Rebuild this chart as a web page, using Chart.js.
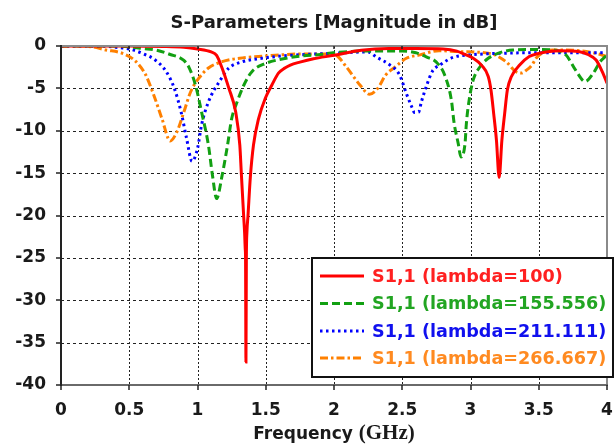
<!DOCTYPE html>
<html><head><meta charset="utf-8">
<script src="https://cdn.jsdelivr.net/npm/chart.js@4.4.0/dist/chart.umd.min.js"></script>
<style>html,body{margin:0;padding:0;background:#fff}#wrap{width:614px;height:446px;position:relative}</style>
</head><body><div id="wrap"><canvas id="c" width="614" height="446"></canvas></div>
<script>
const chartTitle = 'S-Parameters [Magnitude in dB]';
const xTitleMain = 'Frequency ';
const xTitleUnit = '(GHz)';
const seriesLabels = ['S1,1 (lambda=100)', 'S1,1 (lambda=155.556)', 'S1,1 (lambda=211.111)', 'S1,1 (lambda=266.667)'];
const xTicks = [0, 0.5, 1, 1.5, 2, 2.5, 3, 3.5, 4];
const yTicks = [0, -5, -10, -15, -20, -25, -30, -35, -40];

// lambda = 100
const freq100 = [0, 0.5, 0.75, 0.9, 1.0, 1.1, 1.14, 1.18, 1.23, 1.28, 1.31, 1.321, 1.338, 1.345, 1.35, 1.352, 1.355, 1.358, 1.362, 1.37, 1.387, 1.41, 1.447, 1.496, 1.545, 1.593, 1.64, 1.68, 1.75, 1.85, 2.0, 2.2, 2.4, 2.6, 2.8, 2.9, 2.96, 3.02, 3.08, 3.13, 3.15, 3.17, 3.19, 3.21, 3.23, 3.25, 3.27, 3.30, 3.36, 3.43, 3.5, 3.65, 3.8, 3.86, 3.92, 3.97, 4.0];
const s11_100 = [0, 0, -0.05, -0.15, -0.35, -0.7, -1.1, -2.6, -5.0, -7.8, -11.7, -15, -20, -22, -24, -25, -37.3, -25, -22, -20, -15.5, -11.7, -8.6, -6.2, -4.6, -3.2, -2.6, -2.25, -1.9, -1.5, -1.1, -0.5, -0.3, -0.3, -0.35, -0.6, -1.0, -1.45, -2.25, -3.6, -5.2, -8.0, -11.1, -15.5, -11.1, -8.0, -5.2, -3.6, -2.25, -1.25, -0.87, -0.55, -0.67, -1.0, -1.65, -3.2, -4.4];
// lambda = 155.556
const freq155 = [0, 0.3, 0.5, 0.6, 0.7, 0.8, 0.9, 0.94, 0.985, 1.03, 1.08, 1.11, 1.14, 1.18, 1.22, 1.25, 1.29, 1.34, 1.40, 1.5, 1.6, 1.75, 1.9, 2.0, 2.2, 2.5, 2.6, 2.68, 2.75, 2.81, 2.86, 2.88, 2.91, 2.93, 2.96, 2.97, 2.99, 3.02, 3.07, 3.13, 3.2, 3.31, 3.5, 3.62, 3.70, 3.77, 3.84, 3.90, 3.95, 4.0];
const s11_155 = [0, 0, -0.1, -0.3, -0.5, -1.0, -1.7, -2.6, -4.6, -7.8, -11.7, -15.3, -18.0, -15.3, -11.7, -8.6, -6.6, -4.6, -3.0, -2.05, -1.6, -1.2, -1.0, -0.8, -0.6, -0.6, -0.8, -1.3, -1.9, -3.4, -6.4, -9.1, -11.5, -13.1, -11.5, -9.1, -6.4, -4.0, -2.45, -1.45, -0.87, -0.47, -0.4, -0.5, -1.06, -2.85, -4.2, -3.2, -1.85, -1.06];
// lambda = 211.111
const freq211 = [0, 0.3, 0.4, 0.5, 0.6, 0.69, 0.77, 0.83, 0.88, 0.92, 0.96, 1.0, 1.03, 1.08, 1.16, 1.23, 1.33, 1.47, 1.64, 2.0, 2.25, 2.31, 2.41, 2.48, 2.53, 2.57, 2.59, 2.62, 2.64, 2.68, 2.72, 2.78, 2.87, 2.99, 3.21, 3.5, 4.0];
const s11_211 = [0, 0, -0.15, -0.35, -0.9, -1.65, -3.0, -5.0, -7.8, -10.9, -13.6, -12.1, -9.3, -6.6, -4.2, -2.6, -1.85, -1.45, -1.15, -0.86, -0.7, -1.3, -2.25, -3.4, -5.6, -7.2, -7.85, -7.8, -6.6, -4.6, -3.0, -2.2, -1.35, -1.06, -0.87, -0.79, -0.79];
// lambda = 266.667
const freq266 = [0, 0.2, 0.33, 0.45, 0.55, 0.62, 0.68, 0.74, 0.80, 0.85, 0.90, 0.95, 1.01, 1.08, 1.18, 1.33, 1.52, 1.75, 1.95, 2.01, 2.09, 2.19, 2.26, 2.32, 2.38, 2.45, 2.53, 2.63, 2.77, 2.92, 3.14, 3.26, 3.33, 3.37, 3.41, 3.45, 3.48, 3.52, 3.60, 3.80, 3.92, 4.0];
const s11_266 = [0, -0.05, -0.47, -0.87, -1.85, -3.4, -5.8, -8.6, -11.2, -10.1, -7.8, -5.4, -3.8, -2.6, -1.85, -1.4, -1.15, -0.95, -0.95, -1.05, -2.45, -4.6, -5.7, -5.0, -3.4, -2.45, -1.45, -1.05, -0.55, -0.67, -0.87, -1.85, -3.0, -3.2, -2.85, -2.25, -1.45, -0.87, -0.47, -0.55, -0.87, -1.25];

const lineColors = ['#ff0000', '#12a012', '#0000ff', '#ff8000'];
const textColors = ['#ff2020', '#22a522', '#1010ee', '#ff8a20'];
const dashes = [[], [8, 4], [2.5, 3.5], [8, 3, 2.5, 3]];

function pts(xs, ys) { return xs.map((v, i) => ({x: v, y: ys[i]})); }
const freqs = [freq100, freq155, freq211, freq266];
const vals = [s11_100, s11_155, s11_211, s11_266];

const FONT = "'DejaVu Sans', sans-serif";

const decoPlugin = {
  id: 'deco',
  beforeDatasetsDraw(chart) {
    const {ctx, chartArea: a, scales: {x, y}} = chart;
    ctx.save();
    ctx.strokeStyle = '#222';
    ctx.lineWidth = 1;
    ctx.setLineDash([2, 2]);
    xTicks.forEach(v => {
      if (v <= 0 || v >= 4) return;
      const px = Math.round(x.getPixelForValue(v)) + 0.5;
      ctx.beginPath(); ctx.moveTo(px, a.top); ctx.lineTo(px, a.bottom); ctx.stroke();
    });
    ctx.setLineDash([3, 3]);
    yTicks.forEach(v => {
      if (v >= 0 || v <= -40) return;
      const py = Math.round(y.getPixelForValue(v)) + 0.5;
      ctx.beginPath(); ctx.moveTo(a.left, py); ctx.lineTo(a.right, py); ctx.stroke();
    });
    ctx.restore();
  },
  afterDatasetsDraw(chart) {
    const {ctx, chartArea: a, scales: {x, y}} = chart;
    ctx.save();
    ctx.setLineDash([]);
    ctx.strokeStyle = '#8a8a8a';
    ctx.lineWidth = 2;
    ctx.beginPath(); ctx.moveTo(a.left, a.top); ctx.lineTo(a.right, a.top); ctx.lineTo(a.right, a.bottom); ctx.stroke();
    ctx.strokeStyle = '#6a6a6a';
    ctx.beginPath(); ctx.moveTo(a.left, a.bottom); ctx.lineTo(a.right + 1, a.bottom); ctx.stroke();
    ctx.strokeStyle = '#222';
    ctx.beginPath(); ctx.moveTo(a.left, a.top - 1); ctx.lineTo(a.left, a.bottom + 1); ctx.stroke();
    ctx.lineWidth = 1.5;
    ctx.strokeStyle = '#222';
    xTicks.forEach(v => {
      const px = Math.round(x.getPixelForValue(v));
      ctx.beginPath(); ctx.moveTo(px, a.bottom); ctx.lineTo(px, a.bottom + 5); ctx.stroke();
      if (v > 0 && v < 4) { ctx.beginPath(); ctx.moveTo(px, a.top); ctx.lineTo(px, a.top + 3); ctx.stroke(); }
    });
    yTicks.forEach(v => {
      const py = Math.round(y.getPixelForValue(v));
      ctx.beginPath(); ctx.moveTo(a.left - 5, py); ctx.lineTo(a.left, py); ctx.stroke();
    });
    ctx.restore();
  },
  afterDraw(chart) {
    const {ctx, chartArea: a} = chart;
    ctx.save();
    const f1 = "bold 17px " + FONT;
    const f2 = "bold 21px 'Liberation Serif', serif";
    ctx.font = f1; const w1 = ctx.measureText(xTitleMain).width;
    ctx.font = f2; const w2 = ctx.measureText(xTitleUnit).width;
    const cx = (a.left + a.right) / 2;
    const sx = cx - (w1 + w2) / 2;
    const by = 439;
    ctx.fillStyle = '#1a1a1a';
    ctx.textBaseline = 'alphabetic';
    ctx.textAlign = 'left';
    ctx.font = f1; ctx.fillText(xTitleMain, sx, by);
    ctx.font = f2; ctx.fillText(xTitleUnit, sx + w1, by);

    const lx = 312, ly = 258, lw = 301, lh = 119;
    ctx.fillStyle = '#ffffff';
    ctx.fillRect(lx, ly, lw, lh);
    ctx.strokeStyle = '#111';
    ctx.lineWidth = 2;
    ctx.strokeRect(lx, ly, lw, lh);
    const rows = [276, 303.5, 331, 358];
    chart.data.datasets.forEach((ds, i) => {
      const ry = rows[i];
      ctx.strokeStyle = ds.borderColor;
      ctx.lineWidth = 3;
      ctx.setLineDash(ds.borderDash || []);
      ctx.beginPath(); ctx.moveTo(320, ry); ctx.lineTo(364, ry); ctx.stroke();
      ctx.setLineDash([]);
      ctx.fillStyle = textColors[i];
      ctx.font = "bold 17.6px " + FONT;
      ctx.textBaseline = 'middle';
      ctx.fillText(ds.label, 372, ry + 1);
    });
    ctx.restore();
  }
};

const datasets = seriesLabels.map((lab, i) => ({
  label: lab,
  data: pts(freqs[i], vals[i]),
  borderColor: lineColors[i],
  backgroundColor: lineColors[i],
  borderWidth: 3,
  borderDash: dashes[i],
  pointRadius: 0,
  fill: false,
  cubicInterpolationMode: 'monotone'
}));

new Chart(document.getElementById('c'), {
  type: 'line',
  data: {datasets},
  plugins: [decoPlugin],
  options: {
    responsive: false,
    animation: false,
    devicePixelRatio: 1,
    layout: {padding: {top: 0, right: 7, left: 0, bottom: 0}},
    plugins: {
      legend: {display: false},
      tooltip: {enabled: false},
      title: {
        display: true,
        text: chartTitle,
        fullSize: false,
        color: '#1a1a1a',
        font: {family: FONT, size: 18, weight: 'bold', lineHeight: 1.2},
        padding: {top: 12.7, bottom: 11.7}
      }
    },
    scales: {
      x: {
        type: 'linear', min: 0, max: 4,
        afterBuildTicks: s => { s.ticks = xTicks.map(v => ({value: v})); },
        afterFit: s => { s.height = 61; s.paddingLeft = 0; s.paddingRight = 0; },
        grid: {display: false, drawTicks: false},
        border: {display: false},
        ticks: {
          autoSkip: false, maxRotation: 0, padding: 15,
          color: '#1a1a1a',
          font: {family: FONT, size: 17, weight: 'bold'},
          callback: v => String(v)
        }
      },
      y: {
        type: 'linear', min: -40, max: 0,
        afterBuildTicks: s => { s.ticks = yTicks.map(v => ({value: v})); },
        afterFit: s => { s.width = 61; s.paddingTop = 0; s.paddingBottom = 0; },
        grid: {display: false, drawTicks: false},
        border: {display: false},
        ticks: {
          autoSkip: false, padding: 15,
          color: '#1a1a1a',
          font: {family: FONT, size: 17, weight: 'bold'},
          callback: v => String(v)
        }
      }
    }
  }
});
</script>
</body></html>
